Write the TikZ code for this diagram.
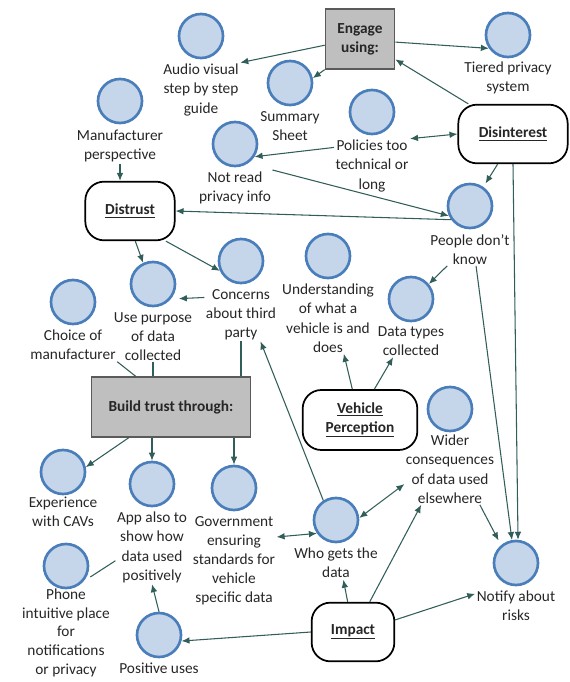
\documentclass[tikz,border=0pt]{standalone}
\usepackage{fontspec}
\setmainfont{Carlito}
\usepackage{tikz}
\usetikzlibrary{arrows.meta,positioning}

\definecolor{linkc}{RGB}{50,94,90}
\definecolor{dotline}{RGB}{74,126,187}
\definecolor{dotfill}{RGB}{198,214,234}
\definecolor{boxfill}{RGB}{191,191,191}
\definecolor{boxline}{RGB}{90,90,90}
\definecolor{txtc}{RGB}{38,38,38}

\begin{document}
\begin{tikzpicture}[x=0.75pt,y=-0.75pt,
  dot/.style={circle,draw=dotline,fill=dotfill,line width=2pt,minimum size=33pt,inner sep=0pt},
  lbl/.style={align=center,inner sep=1pt,text=txtc,font=\fontsize{11.5}{14.3}\selectfont},
  graybox/.style={draw=boxline,fill=boxfill,line width=1pt,align=center,text=txtc,font=\fontsize{11.5}{14.3}\selectfont\bfseries},
  theme/.style={draw=black,fill=white,rounded corners=14pt,line width=1.3pt,minimum height=44pt,align=center,text=txtc,font=\fontsize{11.5}{14.3}\selectfont\bfseries},
  link/.style={draw=linkc,line width=0.8pt},
  arr/.style={link,-{Latex[length=6pt,width=5pt]}},
  darr/.style={link,{Latex[length=6pt,width=5pt]}-{Latex[length=6pt,width=5pt]}}]
\useasboundingbox (0,0) rectangle (570,682);

\node[graybox,minimum width=52pt,minimum height=45pt] (engage) at (360,39) {Engage\\using:};
\node[graybox,minimum width=119pt,minimum height=45pt] (build) at (171,407) {Build trust through:};
\node[theme,minimum width=82pt] (disint) at (513,134) {\underline{Disinterest}};
\node[theme,minimum width=67pt] (distrust) at (130,211) {\underline{Distrust}};
\node[theme,minimum width=86pt,minimum height=45pt] (vehicle) at (360,420) {\underline{Vehicle}\\\underline{Perception}};
\node[theme,minimum width=62pt] (impact) at (353,632) {\underline{Impact}};

\node[dot] (audio) at (201,36) {};
\node[lbl,below=2.5pt of audio] (audiotxt) {Audio visual\\step by step\\guide};
\node[dot] (summary) at (290,83) {};
\node[lbl,below=2.5pt of summary] (summarytxt) {Summary\\Sheet};
\node[dot] (tiered) at (508,35) {};
\node[lbl,below=1.5pt of tiered] (tieredtxt) {Tiered privacy\\system};
\node[dot] (policies) at (372,112) {};
\node[lbl,below=2.5pt of policies] (policiestxt) {Policies too\\technical or\\long};
\node[dot] (notread) at (235,144) {};
\node[lbl,below=2pt of notread] (notreadtxt) {Not read\\privacy info};
\node[dot] (manuf) at (120,101) {};
\node[lbl,below=3pt of manuf] (manuftxt) {Manufacturer\\perspective};
\node[dot] (people) at (470,206) {};
\node[lbl,below=2.5pt of people] (peopletxt) {People don't\\know};
\node[dot] (usep) at (153,284) {};
\node[lbl,below=2.5pt of usep] (useptxt) {Use purpose\\of data\\collected};
\node[dot] (concerns) at (241,261) {};
\node[lbl,below=2.5pt of concerns] (concernstxt) {Concerns\\about third\\party};
\node[dot] (choice) at (73,302) {};
\node[lbl,below=2.5pt of choice] (choicetxt) {Choice of\\manufacturer};
\node[dot] (underst) at (328,256) {};
\node[lbl,below=2.5pt of underst] (underlbl) {Understanding\\of what a\\vehicle is and\\does};
\node[dot] (dtypes) at (411,299) {};
\node[lbl,below=2pt of dtypes] (dtypestxt) {Data types\\collected};
\node[dot] (wider) at (450,409) {};
\node[lbl,below=1pt of wider] (widertxt) {Wider\\consequences\\of data used\\elsewhere};
\node[dot] (exper) at (63,472) {};
\node[lbl,below=0pt of exper] (expertxt) {Experience\\with CAVs};
\node[dot] (app) at (152,484) {};
\node[lbl,below=2.5pt of app] (apptxt) {App also to\\show how\\data used\\positively};
\node[dot] (gov) at (234,488) {};
\node[lbl,below=2.5pt of gov] (govtxt) {Government\\ensuring\\standards for\\vehicle\\specific data};
\node[dot] (who) at (336,520) {};
\node[lbl,below=2.5pt of who] (whotxt) {Who gets the\\data};
\node[dot] (notify) at (516,563) {};
\node[lbl,below=2.5pt of notify] (notifytxt) {Notify about\\risks};
\node[dot] (phone) at (66,566) {};
\node[lbl,below=-1.5pt of phone,font=\fontsize{11.5}{14}\selectfont] (phonetxt) {Phone\\intuitive place\\for\\notifications\\or privacy};
\node[dot] (positive) at (159,635) {};
\node[lbl,below=2pt of positive] (positivetxt) {Positive uses};

\draw[arr] (manuftxt.south) -- (manuftxt.south |- distrust.north);
\draw[arr] (engage.190) -- (audiotxt.north east);
\draw[arr] (engage.south west) -- (summary.12);
\draw[arr] (engage.-5) -- (tiered.215);
\draw[arr] (disint.146) -- (engage.-30);
\draw[darr] (policiestxt.north east) -- (disint.west);
\draw[arr] (policiestxt.154) -- (notread.-33);
\draw[arr] (notreadtxt.north east) -- (people.205);
\draw[arr] (people.216) -- (distrust.east);
\draw[arr,shorten >=3pt] (disint.243) -- (people.55);
\draw[arr] (disint.south) -- (notify.85);
\draw[arr] (peopletxt.-70) -- (notify.100);
\draw[arr] (peopletxt.216) -- (dtypes.40);
\draw[arr] (distrust.-80) -- (usep.115);
\draw[arr] (distrust.-40) -- (concerns.205);
\draw[arr,shorten >=6pt] (concernstxt.155) -- (usep.-40);
\draw[link] (build.139) -- (choicetxt.south east);
\draw[link] (build.north -| useptxt.south) -- (useptxt.south);
\draw[link] (build.north -| concernstxt.south) -- (concernstxt.south);
\draw[arr] (build.216) -- (exper.12);
\draw[arr] (build.south -| app.north) -- (app.north);
\draw[arr] (build.south -| gov.north) -- (gov.north);
\draw[link,shorten <=6pt] (phone.-41) -- (apptxt.200);
\draw[arr] (positive.north) -- (apptxt.south);
\draw[arr] (impact.west) -- (positive.-15);
\draw[arr] (impact.100) -- (whotxt.-66);
\draw[arr] (impact.61) -- (widertxt.231);
\draw[arr] (impact.16) -- (notifytxt.163);
\draw[arr,shorten >=4pt] (widertxt.-50) -- (notify.130);
\draw[darr] (who.5) -- (widertxt.198);
\draw[darr] (govtxt.29) -- (who.215);
\draw[arr] (who.123) -- (concernstxt.-54);
\draw[arr] (vehicle.104) -- (underlbl.-66);
\draw[arr] (vehicle.65) -- (dtypestxt.222);
\end{tikzpicture}
\end{document}
